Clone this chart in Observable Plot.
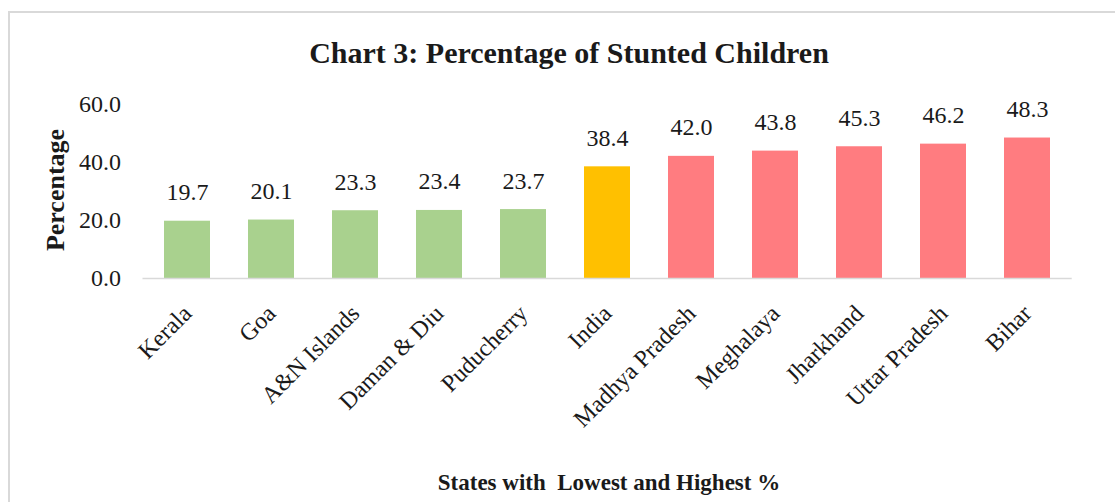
<!DOCTYPE html>
<html><head><meta charset="utf-8">
<script src="https://cdn.jsdelivr.net/npm/d3@7"></script>
<script src="https://cdn.jsdelivr.net/npm/@observablehq/plot@0.6"></script>
<style>
html,body{margin:0;padding:0;background:#fff;}
#wrap{position:relative;width:1115px;height:502px;overflow:hidden;font-family:"Liberation Serif","Times New Roman",serif;color:#1a1a1a;}
#border{position:absolute;left:8px;top:11px;width:1300px;height:700px;border:2px solid #d9d9d9;box-sizing:border-box;}
#chart{position:absolute;left:0;top:0;}
#chart svg, #chart svg text, #chart svg g{font-family:"Liberation Serif","Times New Roman",serif !important;}
#title{position:absolute;left:0;width:1138px;top:38px;text-align:center;font-weight:bold;font-size:30px;line-height:1;white-space:nowrap;}
#xlabel{position:absolute;left:0;width:1218px;top:471px;text-align:center;font-weight:bold;font-size:23px;line-height:1;white-space:nowrap;}
#ylabel{position:absolute;left:56px;top:190px;transform:translate(-50%,-50%) rotate(-90deg);font-weight:bold;font-size:26px;line-height:1;white-space:nowrap;}
</style>
</head><body>
<div id="wrap">
  <div id="border"></div>
  <div id="chart"></div>
  <div id="title">Chart 3: Percentage of Stunted Children</div>
  <div id="ylabel">Percentage</div>
  <div id="xlabel">States with&nbsp; Lowest and Highest %</div>
</div>
<script>
const states = ["Kerala","Goa","A&N Islands","Daman & Diu","Puducherry","India","Madhya Pradesh","Meghalaya","Jharkhand","Uttar Pradesh","Bihar"];
const values = [19.7,20.1,23.3,23.4,23.7,38.4,42.0,43.8,45.3,46.2,48.3];
const groups = ["low","low","low","low","low","india","high","high","high","high","high"];
const groupNames = ["low","india","high"];
const groupColors = ["#A9D18E","#FFC000","#FF7C80"];
const yTicks = [0,20,40,60];

const data = states.map((s,i)=>({state:s,value:values[i],group:groups[i]}));
const serif = "Liberation Serif, Times New Roman, serif";

const chart = Plot.plot({
  width:1115, height:502,
  marginLeft:142.5, marginRight:43.3, marginTop:103.5, marginBottom:224,
  x:{domain:states, paddingInner:0.455, paddingOuter:0.2275, label:null},
  y:{domain:[0,60], label:null},
  color:{domain:groupNames, range:groupColors},
  style:{fontFamily:serif, fontSize:"24px", color:"#1a1a1a", background:"transparent", overflow:"visible"},
  marks:[
    Plot.barY(data,{x:"state",y:"value",fill:"group"}),
    Plot.ruleY([0],{stroke:"#d9d9d9", strokeWidth:1.5}),
    Plot.text(data,{x:"state",y:"value",text:d=>d.value.toFixed(1), lineAnchor:"bottom", dy:-21, fontSize:24, fontFamily:serif, fill:"#1a1a1a"}),
    Plot.axisY({ticks:yTicks, tickFormat:d3.format(".1f"), tickSize:0, tickPadding:22, fontSize:24, fontFamily:serif, label:null}),
    Plot.axisX({tickSize:0, tickRotate:-45, tickPadding:31, fontSize:24, fontFamily:serif, label:null})
  ]
});
document.getElementById("chart").appendChild(chart);
</script>
</body></html>
